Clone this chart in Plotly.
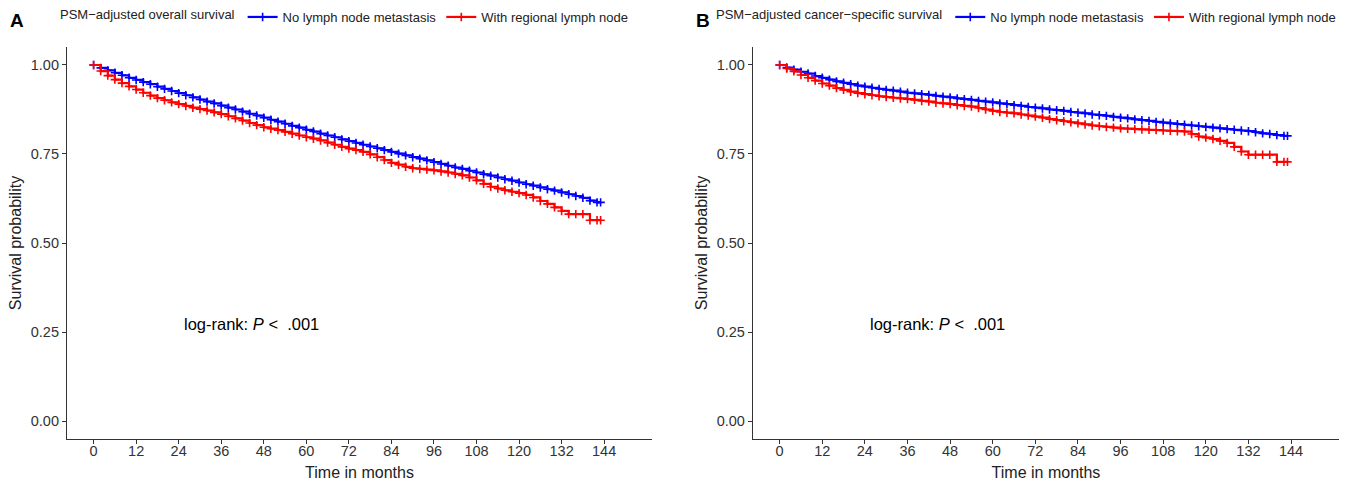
import plotly.graph_objects as go

# ---- data ----
months = [0, 2, 4, 6, 8, 10, 12, 14, 16, 18, 20, 22, 24, 26, 28, 30, 32, 34, 36, 38,
          40, 42, 44, 46, 48, 50, 52, 54, 56, 58, 60, 62, 64, 66, 68, 70, 72, 74, 76, 78,
          80, 82, 84, 86, 88, 90, 92, 94, 96, 98, 100, 102, 104, 106, 108, 110, 112, 114,
          116, 118, 120, 122, 124, 126, 128, 130, 132, 134, 136, 138, 140, 142, 143]

os_no_ln = [1.000, .992, .985, .978, .971, .964, .958, .952, .946, .939, .933, .927, .921,
            .915, .909, .903, .897, .892, .886, .880, .875, .869, .863, .858, .852, .846,
            .841, .835, .829, .824, .818, .813, .807, .802, .797, .791, .786, .781, .776,
            .771, .766, .761, .756, .751, .746, .741, .737, .732, .727, .722, .717, .712,
            .708, .703, .698, .693, .689, .684, .679, .675, .670, .665, .661, .656, .651,
            .647, .642, .637, .632, .627, .619, .614, .614]

os_ln = [1.000, .983, .970, .959, .949, .940, .931, .922, .914, .907, .901, .895, .890,
         .885, .880, .876, .872, .867, .862, .856, .850, .844, .837, .831, .825, .821,
         .817, .812, .807, .802, .797, .793, .788, .782, .776, .770, .765, .761, .756,
         .749, .741, .733, .725, .720, .714, .710, .708, .706, .704, .701, .698, .694,
         .690, .684, .676, .666, .658, .653, .648, .644, .640, .635, .628, .618, .610,
         .600, .590, .581, .581, .581, .564, .564, .564]

css_no_ln = [1.000, .993, .987, .981, .976, .969, .964, .959, .954, .950, .946, .942, .939,
             .936, .933, .930, .928, .925, .922, .920, .918, .916, .913, .911, .909, .906,
             .904, .902, .899, .897, .895, .892, .890, .887, .885, .882, .880, .878, .875,
             .873, .871, .868, .866, .864, .861, .859, .857, .854, .852, .850, .847, .845,
             .843, .840, .838, .836, .834, .832, .830, .828, .826, .824, .822, .820, .818,
             .816, .814, .811, .808, .806, .803, .801, .801]

css_ln = [1.000, .990, .982, .972, .964, .956, .948, .942, .935, .930, .925, .921, .918,
          .915, .912, .910, .908, .906, .904, .902, .899, .897, .894, .892, .890, .887,
          .885, .883, .879, .875, .871, .868, .866, .864, .861, .858, .855, .852, .848,
          .845, .842, .839, .836, .833, .830, .828, .826, .824, .822, .821, .820, .819,
          .818, .817, .816, .815, .814, .813, .806, .799, .796, .792, .787, .781, .770,
          .757, .748, .748, .748, .748, .728, .728, .728]

x_ticks = [0, 12, 24, 36, 48, 60, 72, 84, 96, 108, 120, 132, 144]
y_ticks = [0.00, 0.25, 0.50, 0.75, 1.00]
y_tick_text = ["0.00", "0.25", "0.50", "0.75", "1.00"]

group_names = ["No lymph node metastasis", "With regional lymph node"]
colors = ["#0000FF", "#FF0000"]
legend_titles = ["PSM\u2212adjusted overall survival",
                 "PSM\u2212adjusted cancer\u2212specific survival"]
panel_letters = ["A", "B"]
pvalue_text = "log-rank: <i>P</i> <\u00a0\u00a0.001"

FONT = "Liberation Sans, Arial, sans-serif"
W, H = 1352, 481

fig = go.Figure()

panels = [
    (os_no_ln, os_ln, "x", "y", "legend"),
    (css_no_ln, css_ln, "x2", "y2", "legend2"),
]
for (s_no, s_ln, xa, ya, lg) in panels:
    for name, vals, col in zip(group_names, [s_no, s_ln], colors):
        fig.add_trace(go.Scatter(
            x=months, y=vals, name=name, mode="lines+markers",
            line=dict(color=col, width=2.2, shape="hv"),
            marker=dict(symbol="cross-thin", size=6, line=dict(color=col, width=1.6)),
            xaxis=xa, yaxis=ya, legend=lg, showlegend=True,
        ))

ydom = [0.0877, 0.9019]
axis_common = dict(
    showline=True, linecolor="#333333", linewidth=1.3, mirror=False,
    ticks="outside", ticklen=4, tickwidth=1, tickcolor="#333333",
    showgrid=False, zeroline=False, automargin=False,
    tickfont=dict(family=FONT, size=14.5, color="#333333"),
)

xaxis_common = dict(axis_common, range=[-7.5, 157.5], tickmode="array", tickvals=x_ticks,
                    ticklabelstandoff=-5,
                    title=dict(text="Time in months", font=dict(family=FONT, size=16, color="#222"),
                               standoff=16))
yaxis_common = dict(axis_common, range=[-0.05, 1.05], tickmode="array", tickvals=y_ticks,
                    ticktext=y_tick_text,
                    title=dict(text="Survival probability", font=dict(family=FONT, size=16, color="#222"),
                               standoff=5))

LEG_FONT = 13
legend_common = dict(
    orientation="h", yanchor="middle", xanchor="left",
    font=dict(family=FONT, size=LEG_FONT, color="#222"),
    bgcolor="rgba(0,0,0,0)", borderwidth=0, itemwidth=30,
    tracegroupgap=0,
)

fig.update_layout(
    width=W, height=H,
    template="none",
    paper_bgcolor="white", plot_bgcolor="white",
    margin=dict(l=0, r=0, t=0, b=0),
    font=dict(family=FONT, color="#222"),
    xaxis=dict(xaxis_common, domain=[0.04956, 0.48225], anchor="y"),
    yaxis=dict(yaxis_common, domain=ydom, anchor="x"),
    xaxis2=dict(xaxis_common, domain=[0.55695, 0.99038], anchor="y2"),
    yaxis2=dict(yaxis_common, domain=ydom, anchor="x2"),
    legend=dict(legend_common, x=58 / W, y=1 - 17 / H,
                title=dict(text=legend_titles[0], side="left",
                           font=dict(family=FONT, size=LEG_FONT, color="#222"))),
    legend2=dict(legend_common, x=714 / W, y=1 - 17 / H,
                 title=dict(text=legend_titles[1], side="left",
                            font=dict(family=FONT, size=LEG_FONT, color="#222"))),
    showlegend=True,
)

# panel letters
for letter, xp in zip(panel_letters, [17 / W, 703 / W]):
    fig.add_annotation(text="<b>%s</b>" % letter, xref="paper", yref="paper",
                       x=xp, y=1 - 20 / H, showarrow=False, xanchor="center", yanchor="middle",
                       font=dict(family=FONT, size=19, color="black"))

# log-rank p-value labels
for xa, ya in [("x", "y"), ("x2", "y2")]:
    fig.add_annotation(text=pvalue_text, xref=xa, yref=ya, x=25, y=0.272,
                       showarrow=False, xanchor="left", yanchor="middle",
                       font=dict(family=FONT, size=16.5, color="black"))

fig.write_html("out.html",
               config={"displayModeBar": False},
               post_script="document.body.style.margin='0';document.body.style.overflow='hidden';")
